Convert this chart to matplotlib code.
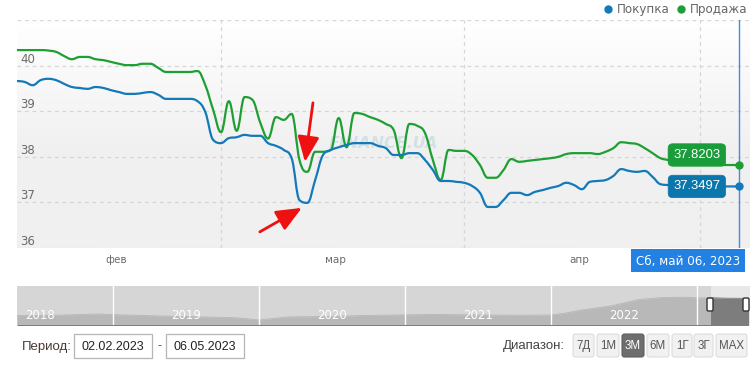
import numpy as np
import matplotlib
matplotlib.use('Agg')
import matplotlib.pyplot as plt
import matplotlib.dates as mdates
import matplotlib.transforms as mtransforms
from matplotlib.path import Path
from matplotlib.patches import PathPatch, FancyBboxPatch, Rectangle
import pandas as pd

# ---------------- data ----------------
dates = pd.date_range('2023-02-02', '2023-05-06', freq='D')

buy = [39.66, 39.66, 39.64, 39.57, 39.68, 39.71, 39.68, 39.60, 39.53, 39.51,
       39.49, 39.53, 39.51, 39.46, 39.42, 39.38, 39.38, 39.40, 39.42, 39.36,
       39.27, 39.27, 39.27, 39.27, 39.22, 38.98, 38.37, 38.30, 38.41, 38.43,
       38.48, 38.46, 38.46, 38.30, 38.24, 38.15, 37.97, 37.05, 36.99, 37.49,
       38.04, 38.15, 38.21, 38.26, 38.30, 38.30, 38.30, 38.24, 38.19, 38.04,
       38.04, 38.08, 38.08, 37.93, 37.71, 37.47, 37.47, 37.45, 37.43, 37.36,
       37.21, 36.90, 36.90, 37.05, 37.21, 37.21, 37.16, 37.23, 37.27, 37.32,
       37.36, 37.43, 37.38, 37.29, 37.45, 37.47, 37.49, 37.58, 37.73, 37.69,
       37.67, 37.69, 37.56, 37.40, 37.38, 37.37, 37.36, 37.36, 37.35, 37.35,
       37.35, 37.35, 37.35, 37.3497]

sell = [40.34, 40.34, 40.34, 40.34, 40.34, 40.33, 40.30, 40.21, 40.14, 40.19,
        40.19, 40.14, 40.12, 40.08, 40.04, 40.01, 40.01, 40.04, 40.04, 39.95,
        39.86, 39.86, 39.86, 39.86, 39.88, 39.57, 39.03, 38.54, 39.22, 38.57,
        39.31, 39.25, 38.75, 38.40, 38.87, 38.81, 38.94, 37.93, 37.67, 38.11,
        38.11, 38.15, 38.85, 38.21, 38.96, 38.94, 38.87, 38.81, 38.72, 38.59,
        37.97, 38.72, 38.68, 38.52, 37.93, 37.49, 38.15, 38.13, 38.13, 38.04,
        37.82, 37.54, 37.54, 37.71, 37.95, 37.89, 37.91, 37.93, 37.95, 37.97,
        38.00, 38.06, 38.08, 38.08, 38.08, 38.06, 38.11, 38.19, 38.32, 38.30,
        38.28, 38.19, 38.08, 37.97, 37.93, 37.90, 37.88, 37.86, 37.85, 37.84,
        37.83, 37.82, 37.82, 37.8203]

series_names = ['Покупка', 'Продажа']
y_ticks = [36, 37, 38, 39, 40]
month_labels = ['фев', 'мар', 'апр']
month_label_dates = ['2023-02-15 15:00', '2023-03-15 15:00', '2023-04-15 15:00']
month_grid_dates = ['2023-03-01', '2023-04-01', '2023-05-01']
arrow_date = '2023-03-12'   # the dip the red arrows point at

nav_years = [2018.34, 2018.6, 2018.9, 2019.0, 2019.3, 2019.6, 2019.85, 2020.0,
             2020.2, 2020.45, 2020.7, 2020.95, 2021.2, 2021.5, 2021.8, 2022.0,
             2022.1, 2022.2, 2022.4, 2022.5, 2022.6, 2022.75, 2022.9, 2023.0,
             2023.1, 2023.2, 2023.35]
nav_values = [26.6, 26.8, 27.6, 27.2, 26.4, 25.8, 25.2, 23.9,
              25.8, 26.0, 26.6, 27.0, 27.3, 27.0, 26.8, 27.0,
              28.2, 30.0, 32.5, 34.5, 36.6, 37.8, 38.0, 37.6,
              37.7, 37.4, 37.3]
year_labels = ['2018', '2019', '2020', '2021', '2022']

period_start = '02.02.2023'
period_end = '06.05.2023'
range_buttons = ['7Д', '1М', '3М', '6М', '1Г', '3Г', 'MAX']
selected_button = '3М'
crosshair_label = 'Сб, май 06, 2023'

# ---------------- style ----------------
BLUE = '#1479b8'
GREEN = '#1e9f33'
BLUE_BOX = '#0b76ac'
GREEN_BOX = '#1a9c3a'
W, H = 750, 367

fig = plt.figure(figsize=(W / 100, H / 100), dpi=100)
fig.patch.set_facecolor('white')


def fr(x0, y0, x1, y1):
    return [x0 / W, 1 - y1 / H, (x1 - x0) / W, (y1 - y0) / H]


def spline_path(x, y):
    """Highcharts-like spline as cubic Bezier path."""
    n = len(x)
    sm = 1.5
    den = sm + 1
    lc = [(x[i], y[i]) for i in range(n)]
    rc = [(x[i], y[i]) for i in range(n)]
    for i in range(1, n - 1):
        px, py = x[i], y[i]
        lx, ly = x[i - 1], y[i - 1]
        nx, ny = x[i + 1], y[i + 1]
        lcx = (sm * px + lx) / den
        lcy = (sm * py + ly) / den
        rcx = (sm * px + nx) / den
        rcy = (sm * py + ny) / den
        corr = ((rcy - lcy) * (rcx - px)) / (rcx - lcx) + py - rcy
        lcy += corr
        rcy += corr
        if lcy > max(ly, py):
            lcy = max(ly, py); rcy = 2 * py - lcy
        elif lcy < min(ly, py):
            lcy = min(ly, py); rcy = 2 * py - lcy
        if rcy > max(py, ny):
            rcy = max(py, ny); lcy = 2 * py - rcy
        elif rcy < min(py, ny):
            rcy = min(py, ny); lcy = 2 * py - rcy
        lc[i] = (lcx, lcy)
        rc[i] = (rcx, rcy)
    verts = [(x[0], y[0])]
    codes = [Path.MOVETO]
    for i in range(1, n):
        verts += [rc[i - 1], lc[i], (x[i], y[i])]
        codes += [Path.CURVE4] * 3
    return Path(verts, codes)


# ---------------- main chart ----------------
ax = fig.add_axes(fr(17, 20, 750, 248))
xd = mdates.date2num(dates)
x0 = mdates.date2num(pd.Timestamp('2023-02-03'))
x1 = mdates.date2num(pd.Timestamp('2023-05-07 10:00'))

grad = np.linspace(0, 1, 256).reshape(-1, 1)
grad = np.clip((grad - 0.45) / 0.55, 0, 1)
top = np.array([1.0, 1.0, 1.0])
bot = np.array([0.945, 0.945, 0.945])
img = bot + (top - bot) * grad[..., None]
ax.imshow(img, extent=[0, 1, 0, 1], transform=ax.transAxes, aspect='auto',
          origin='lower', zorder=0)
ax.set_autoscale_on(False)
ax.set_xlim(x0, x1)
ax.set_ylim(36, 41)

for v in y_ticks + [41]:
    ax.axhline(v, color='#d6d6d6', lw=0.9, ls=(0, (3, 3)), zorder=1)
for d in month_grid_dates:
    ax.axvline(mdates.date2num(pd.Timestamp(d)), color='#d6d6d6', lw=0.9,
               ls=(0, (3, 3)), zorder=1)
for s in ax.spines.values():
    s.set_visible(False)
ax.set_xticks([])
ax.set_yticks([])

ylab_tr = mtransforms.offset_copy(
    mtransforms.blended_transform_factory(ax.transAxes, ax.transData),
    fig=fig, x=3, y=3, units='dots')
for v in y_ticks:
    ax.text(0, v, str(v), transform=ylab_tr, ha='left', va='baseline',
            fontsize=8.5, color='#6b6b6b', family='DejaVu Sans', zorder=2)

mlab_tr = mtransforms.offset_copy(
    mtransforms.blended_transform_factory(ax.transData, ax.transAxes),
    fig=fig, x=0, y=-12, units='dots')
for lab, d in zip(month_labels, month_label_dates):
    ax.text(mdates.date2num(pd.Timestamp(d)), 0, lab, transform=mlab_tr,
            ha='center', va='center', fontsize=7.5, color='#6b6b6b',
            family='DejaVu Sans', clip_on=False)

# watermark
ax.text(0.5, 0.46, 'FINANCE.UA', transform=ax.transAxes, ha='center',
        va='center', fontsize=11.5, fontweight='bold', style='italic',
        color='#d3e1e4', zorder=1.5)

# series lines
ax.add_patch(PathPatch(spline_path(xd, np.array(sell)), fill=False,
                       edgecolor=GREEN, lw=1.6, zorder=3, capstyle='round',
                       joinstyle='round'))
ax.add_patch(PathPatch(spline_path(xd, np.array(buy)), fill=False,
                       edgecolor=BLUE, lw=1.6, zorder=3, capstyle='round',
                       joinstyle='round'))

# crosshair
ax.axvline(xd[-1], color='#3d8ee6', lw=1.0, zorder=4)

# end markers
ax.plot([xd[-1]], [sell[-1]], 'o', color=GREEN, ms=5, zorder=6, clip_on=False)
ax.plot([xd[-1]], [buy[-1]], 'o', color=BLUE, ms=5, zorder=6, clip_on=False)

# last value labels
for val, col, dy in [(sell[-1], GREEN_BOX, 10), (buy[-1], BLUE_BOX, 0)]:
    ax.annotate(f'{val:.4f}', xy=(xd[-1], val), xytext=(-42, dy),
                textcoords='offset pixels', ha='center', va='center',
                fontsize=9.4, color='white', family='Liberation Sans',
                zorder=7,
                bbox=dict(boxstyle='round,pad=0.4,rounding_size=0.35',
                          fc=col, ec=col, lw=0.5))

# red arrows pointing at the mid-March dip
ia = int(np.where(dates == pd.Timestamp(arrow_date))[0][0])
arrow_kw = dict(arrowstyle='-|>,head_length=0.7,head_width=0.3',
                color='#ee1111', lw=2.0, mutation_scale=22,
                shrinkA=0, shrinkB=0)
ax.annotate('', xy=(xd[ia] - 0.3, sell[ia] + 0.22), xytext=(8, 59),
            textcoords='offset pixels', xycoords='data',
            arrowprops=arrow_kw, zorder=8)
ax.annotate('', xy=(xd[ia] - 0.7, buy[ia] - 0.11), xytext=(-42, -24),
            textcoords='offset pixels', xycoords='data',
            arrowprops=arrow_kw, zorder=8)

# ---------------- navigator ----------------
nav = fig.add_axes(fr(17, 286, 750, 325))
nav.set_facecolor('#e8e8e8')
nav.fill_between(nav_years, nav_values, 0, color='#7d7d7d', lw=0, zorder=1)
nav.plot(nav_years, nav_values, color='#767676', lw=0.6, zorder=1)
nav.set_xlim(2018.34, 2023.36)
nav.set_ylim(20.75, 45)
sel_start = 2023.09
nav.add_patch(Rectangle((2018.0, 0), sel_start - 2018.0, 100,
                        fc='#cfcfcf', alpha=0.72, lw=0, zorder=2))
for yv in range(2019, 2024):
    nav.axvline(yv, color='white', lw=1.0, zorder=3)
for i, lab in enumerate(year_labels):
    nav.text(2018.5 + i, 0.25, lab, transform=mtransforms.blended_transform_factory(
        nav.transData, nav.transAxes), ha='center', va='center',
        fontsize=8.5, color='white', family='DejaVu Sans', zorder=4)
for s in nav.spines.values():
    s.set_visible(False)
nav.set_xticks([])
nav.set_yticks([])

# ---------------- overlay UI (pixel coords) ----------------
ui = fig.add_axes([0, 0, 1, 1], zorder=10)
ui.set_xlim(0, W)
ui.set_ylim(H, 0)
ui.axis('off')
ui.patch.set_alpha(0)

# legend
ui.plot([608], [9], 'o', color=BLUE, ms=5)
ui.text(617, 9.5, series_names[0], ha='left', va='center', fontsize=8.6,
        color='#666666', family='DejaVu Sans')
ui.plot([681], [9], 'o', color=GREEN, ms=5)
ui.text(690, 9.5, series_names[1], ha='left', va='center', fontsize=8.6,
        color='#666666', family='DejaVu Sans')

# crosshair date label
ui.add_patch(Rectangle((631, 249), 114, 23, fc='#2281e2', ec='none'))
ui.text(688, 261, crosshair_label, ha='center', va='center', fontsize=8.6,
        color='white', family='DejaVu Sans')

# navigator handles
for hx in (710, 746):
    ui.add_patch(FancyBboxPatch((hx - 3, 298), 6, 13,
                                boxstyle='round,pad=0,rounding_size=1.5',
                                fc='white', ec='#333333', lw=1.0))

# period
ui.text(22, 347, 'Период:', ha='left', va='center', fontsize=9.5,
        color='#4a3a32', family='Liberation Sans')
for (bx0, bx1), txt in zip([(74, 152), (166, 244)], [period_start, period_end]):
    ui.add_patch(Rectangle((bx0, 334), bx1 - bx0, 24, fc='white',
                           ec='#b5b5b5', lw=0.9))
    ui.text((bx0 + bx1) / 2, 346.5, txt, ha='center', va='center',
            fontsize=9, color='#222222', family='Liberation Sans')
ui.text(159, 346, '-', ha='center', va='center', fontsize=9,
        color='#555555', family='Liberation Sans')

# range selector
ui.text(565, 346, 'Диапазон:', ha='right', va='center', fontsize=9.5,
        color='#444444', family='Liberation Sans')
btn_x = [(573, 594), (597, 619), (622, 644), (647, 669), (672, 692),
         (694, 713), (716, 747)]
for (bx0, bx1), lab in zip(btn_x, range_buttons):
    sel = lab == selected_button
    ui.add_patch(FancyBboxPatch((bx0, 334), bx1 - bx0, 23,
                                boxstyle='round,pad=0,rounding_size=2.5',
                                fc='#6e6e6e' if sel else '#f1f1f1',
                                ec='#5e5e5e' if sel else '#dcdcdc', lw=0.8))
    ui.text((bx0 + bx1) / 2, 346, lab, ha='center', va='center',
            fontsize=8.3, color='white' if sel else '#555555',
            family='Liberation Sans')

fig.savefig('out.png', dpi=100)
